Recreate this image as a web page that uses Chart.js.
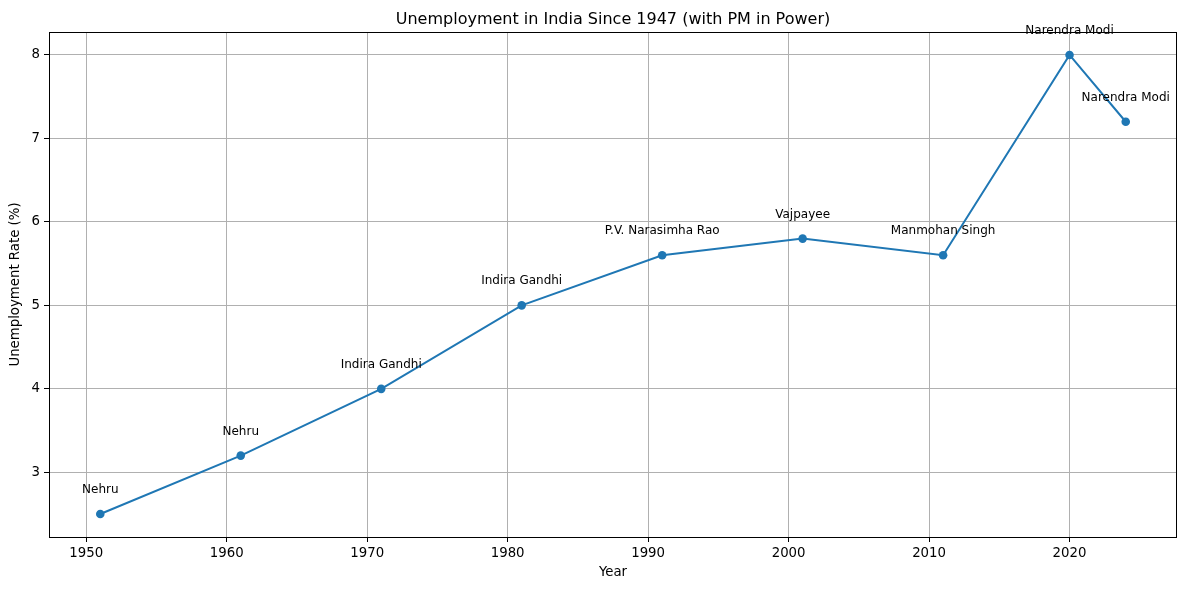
<!DOCTYPE html>
<html>
<head>
<meta charset="utf-8">
<script src="https://cdn.jsdelivr.net/npm/chart.js@4.4.1/dist/chart.umd.min.js"></script>
<style>
  body { margin: 0; background: #fff; }
  canvas { display: block; }
</style>
</head>
<body>
<canvas id="myChart" width="1186" height="590"></canvas>
<script>
// data
const years = [1951, 1961, 1971, 1981, 1991, 2001, 2011, 2020, 2024];
const rates = [2.5, 3.2, 4.0, 5.0, 5.6, 5.8, 5.6, 8.0, 7.2];
const pms = ['Nehru', 'Nehru', 'Indira Gandhi', 'Indira Gandhi', 'P.V. Narasimha Rao',
             'Vajpayee', 'Manmohan Singh', 'Narendra Modi', 'Narendra Modi'];
const xTicks = [1950, 1960, 1970, 1980, 1990, 2000, 2010, 2020];
const yTicks = [3, 4, 5, 6, 7, 8];

const FONT = 'DejaVu Sans';
const BLUE = '#1f77b4';

// titles, frame and point labels drawn by hand (matplotlib look)
const textPlugin = {
    id: 'textPlugin',
    afterDraw(chart) {
        const ctx = chart.ctx;
        const a = chart.chartArea;
        const xs = chart.scales.x, ys = chart.scales.y;
        ctx.save();
        // frame
        ctx.strokeStyle = '#000';
        ctx.lineWidth = 1;
        ctx.strokeRect(Math.round(a.left) + 0.5, Math.round(a.top) + 0.5,
                       Math.round(a.right - a.left) - 1, Math.round(a.bottom - a.top));
        ctx.fillStyle = '#000';
        ctx.textAlign = 'center';
        // title
        ctx.font = '16px "' + FONT + '"';
        ctx.textBaseline = 'alphabetic';
        ctx.fillText('Unemployment in India Since 1947 (with PM in Power)', (a.left + a.right) / 2, 24);
        // axis labels
        ctx.font = '13.3px "' + FONT + '"';
        ctx.textBaseline = 'middle';
        ctx.fillText('Year', (a.left + a.right) / 2, 573);
        ctx.save();
        ctx.translate(16, (a.top + a.bottom) / 2);
        ctx.rotate(-Math.PI / 2);
        ctx.fillText('Unemployment Rate (%)', 0, 0);
        ctx.restore();
        // point labels
        ctx.font = '12px "' + FONT + '"';
        ctx.textBaseline = 'alphabetic';
        years.forEach((yr, i) => {
            const px = xs.getPixelForValue(yr);
            const py = ys.getPixelForValue(rates[i]);
            ctx.fillText(pms[i], px, py - 21);
        });
        ctx.restore();
    }
};

const config = {
    type: 'line',
    data: {
        datasets: [{
            data: years.map((y, i) => ({ x: y, y: rates[i] })),
            borderColor: BLUE,
            backgroundColor: BLUE,
            borderWidth: 2,
            pointRadius: 4.3,
            pointHoverRadius: 4.3,
            pointBorderWidth: 0,
            tension: 0,
            clip: false
        }]
    },
    options: {
        responsive: false,
        animation: false,
        devicePixelRatio: 1,
        layout: { padding: { top: 32, right: 9, left: 0, bottom: 0 } },
        plugins: {
            legend: { display: false },
            tooltip: { enabled: false },
            title: { display: false }
        },
        scales: {
            x: {
                type: 'linear',
                min: 1947.35,
                max: 2027.65,
                afterBuildTicks(scale) { scale.ticks = xTicks.map(v => ({ value: v })); },
                afterFit(scale) { scale.height = 53; },
                grid: { color: '#b0b0b0', lineWidth: 1, tickColor: '#000', tickLength: 5 },
                border: { display: false },
                ticks: {
                    color: '#000',
                    padding: 4,
                    maxRotation: 0,
                    font: { family: FONT, size: 13.3 },
                    callback: v => String(v)
                }
            },
            y: {
                type: 'linear',
                min: 2.225,
                max: 8.275,
                afterBuildTicks(scale) { scale.ticks = yTicks.map(v => ({ value: v })); },
                afterFit(scale) { scale.width = 49; },
                grid: { color: '#b0b0b0', lineWidth: 1, tickColor: '#000', tickLength: 5 },
                border: { display: false },
                ticks: {
                    color: '#000',
                    padding: 4,
                    font: { family: FONT, size: 13.3 },
                    callback: v => String(v)
                }
            }
        }
    },
    plugins: [textPlugin]
};

const myChart = new Chart(document.getElementById('myChart'), config);
</script>
</body>
</html>
